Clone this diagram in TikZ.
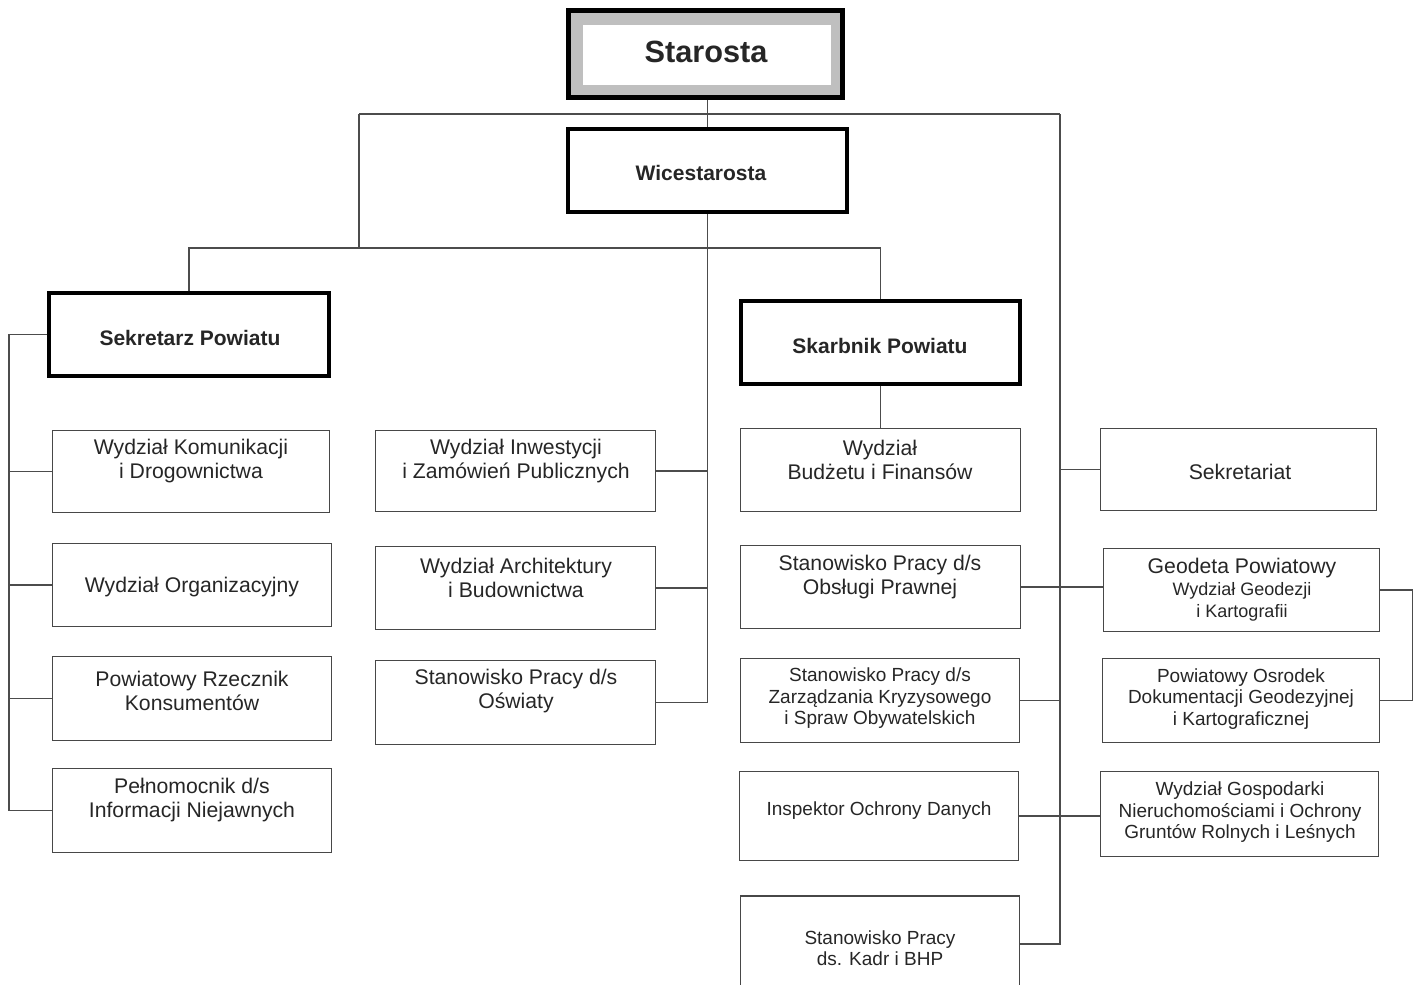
\documentclass[tikz,border=0pt]{standalone}
\usepackage{fontspec}
\setmainfont{Liberation Sans}
\tikzset{
  sz/.style 2 args={minimum width=#1pt, minimum height=#2pt},
  unit/.style={draw=black!72, line width=1.5pt, inner sep=0pt},
  head/.style={draw=black, line width=3.5pt, inner sep=0pt},
  txt/.style={align=center, inner sep=0pt, text=black!85, font=\fontsize{21.2}{24}\selectfont},
  sml/.style={txt, font=\fontsize{19}{21.5}\selectfont},
  bld/.style={txt, font=\fontsize{21}{24}\selectfont\bfseries},
  link/.style={draw=black!70, line width=1.3pt}
}
\begin{document}
\begin{tikzpicture}[x=1pt,y=-1pt]
\useasboundingbox (0,0) rectangle (1417,985);

% kierownictwo
\node[head, line width=5pt, fill=black!25, sz={274}{87}] (star) at (705.5,54) {};
\node[fill=white, draw=black!25, line width=0.8pt, sz={249}{61}, inner sep=0pt] (star-in) at (706.5,54.5) {};
\node[txt, font=\fontsize{30.7}{36}\selectfont\bfseries] (star-t) at (706,52) {Starosta};

\node[head, sz={279}{83}] (wice) at (707.5,170.5) {};
\node[bld] (wice-t) at (701,173) {Wicestarosta};

\node[head, sz={280}{83}] (sekr) at (189,334.5) {};
\node[bld] (sekr-t) at (190,338) {Sekretarz Powiatu};

\node[head, sz={279}{83}] (skarb) at (880.5,342.5) {};
\node[bld] (skarb-t) at (880,346) {Skarbnik Powiatu};

% kolumna lewa
\node[unit, sz={277}{82}] (kom) at (191,471.5) {};
\node[txt] (kom-t) at (191,461) {Wydział Komunikacji\\i Drogownictwa};
\node[unit, sz={279}{83}] (org) at (192,585) {};
\node[txt] (org-t) at (192,587) {Wydział Organizacyjny};
\node[unit, sz={279}{84}] (rzecz) at (192,698.5) {};
\node[txt] (rzecz-t) at (192,691) {Powiatowy Rzecznik\\Konsumentów};
\node[unit, sz={279}{84}] (peln) at (192,810.5) {};
\node[txt] (peln-t) at (192,800) {Pełnomocnik d/s\\Informacji Niejawnych};

% kolumna srodkowa
\node[unit, sz={280}{81}] (inw) at (515.5,471) {};
\node[txt] (inw-t) at (516,461) {Wydział Inwestycji\\i Zamówień Publicznych};
\node[unit, sz={280}{83}] (arch) at (515.5,588) {};
\node[txt] (arch-t) at (516,577.5) {Wydział Architektury\\i Budownictwa};
\node[unit, sz={280}{84}] (osw) at (515.5,702.5) {};
\node[txt] (osw-t) at (516,691) {Stanowisko Pracy d/s\\Oświaty};

% kolumna skarbnika
\node[unit, sz={280}{83}] (budz) at (880.5,470) {};
\node[txt] (budz-t) at (880,460) {Wydział\\Budżetu i Finansów};
\node[unit, sz={280}{83}] (praw) at (880.5,587) {};
\node[txt] (praw-t) at (880,577) {Stanowisko Pracy d/s\\Obsługi Prawnej};
\node[unit, sz={279}{84}] (kryz) at (880,700.5) {};
\node[sml] (kryz-t) at (880,698.5) {Stanowisko Pracy d/s\\Zarządzania Kryzysowego\\i Spraw Obywatelskich};
\node[unit, sz={279}{89}] (iod) at (879,816) {};
\node[sml] (iod-t) at (879,811) {Inspektor Ochrony Danych};
\node[unit, sz={279}{96}] (kadr) at (880,944) {};
\node[sml] (kadr-t) at (880,948) {Stanowisko Pracy\\ds. Kadr i BHP};

% kolumna prawa
\node[unit, sz={276}{82}] (sekt) at (1238.5,469.5) {};
\node[txt] (sekt-t) at (1240,472) {Sekretariat};
\node[unit, sz={276}{83}] (geod) at (1241.5,590) {};
\node[txt] (geod-t) at (1242,589.5) {Geodeta Powiatowy\\[-2pt]{\fontsize{18}{21.5}\selectfont Wydział Geodezji}\\[-2pt]{\fontsize{18}{21.5}\selectfont i Kartografii}};
\node[unit, sz={277}{84}] (pod) at (1241,700.5) {};
\node[sml] (pod-t) at (1241,699) {Powiatowy Osrodek\\Dokumentacji Geodezyjnej\\i Kartograficznej};
\node[unit, sz={278}{85}] (gosp) at (1239.5,814) {};
\node[sml] (gosp-t) at (1240,812.5) {Wydział Gospodarki\\Nieruchomościami i Ochrony\\Gruntów Rolnych i Leśnych};

% polaczenia
\coordinate (topL) at (359,114);
\coordinate (topR) at (1060,114);
\coordinate (split) at (359,248);
\coordinate (lbus) at (9,335);

\draw[link] (star.south -| wice.north) -- (wice.north);
\draw[link] (topL) -- (topR);
\draw[link] (topL) -- (split);
\draw[link] (sekr.north) |- (split) -| (skarb.north);
\draw[link] (skarb.south) -- (budz.north);

\draw[link] (wice.south) -- (wice.south |- osw.east) -- (osw.east);
\draw[link] (inw.east) -- (inw.east -| wice.south);
\draw[link] (arch.east) -- (arch.east -| wice.south);

\draw[link] (sekr.west) -| (lbus |- peln.west) -- (peln.west);
\draw[link] (kom.west) -- (kom.west -| lbus);
\draw[link] (org.west) -- (org.west -| lbus);
\draw[link] (rzecz.west) -- (rzecz.west -| lbus);

\draw[link] (topR) -- (topR |- kadr.east) -- (kadr.east);
\draw[link] (sekt.west) -- (sekt.west -| topR);
\draw[link] (praw.east) -- (praw.east -| geod.west);
\draw[link] (kryz.east) -- (kryz.east -| topR);
\draw[link] (iod.east) -- (iod.east -| gosp.west);
\draw[link] (geod.east) -- ++(32,0) |- (pod.east);
\end{tikzpicture}
\end{document}
